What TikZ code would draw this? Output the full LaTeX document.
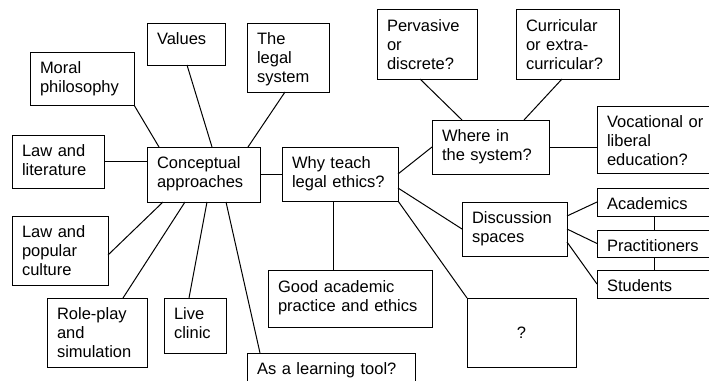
\documentclass[tikz,border=0pt]{standalone}
\usepackage{fontspec}
\setmainfont{Liberation Sans}

\begin{document}
\begin{tikzpicture}[x=1pt,y=-1pt]
  \useasboundingbox (0,0) rectangle (709,380);
  \clip (0,0) rectangle (709,380);
  \tikzset{Box/.style={draw,line width=1pt,anchor=north west,align=left,
                       inner xsep=10pt,inner ysep=0pt,outer sep=0pt,
                       text height=21pt,font=\fontsize{16.5}{19}\selectfont}}
  \tikzset{Link/.style={line width=1pt}}

  \node[Box,text width=58pt,text depth=21pt] (Values) at (147,23) {Values};
  \node[Box,text width=62pt,text depth=48pt] (Legal) at (247,23) {The\\legal\\system};
  \node[Box,text width=84pt,text depth=32pt] (Moral) at (30,52) {Moral\\philosophy};
  \node[Box,text width=72pt,text depth=32pt] (Lit) at (12,135) {Law and\\literature};
  \node[Box,text width=93pt,text depth=34pt] (Concept) at (147,147) {Conceptual\\approaches};
  \node[Box,text width=96pt,text depth=33pt] (Why) at (282,147) {Why teach\\legal ethics?};
  \node[Box,text width=80pt,text depth=48pt,text height=22pt] (Perv) at (377,9) {Pervasive\\or\\discrete?};
  \node[Box,text width=83pt,text depth=48pt,text height=22pt] (Curr) at (516,9) {Curricular\\or extra-\\curricular?};
  \node[Box,text width=97pt,text depth=33pt] (Where) at (432,120) {Where in\\the system?};
  \node[Box,text width=110pt,text depth=46pt] (Voc) at (597,106) {Vocational or\\liberal\\education?};
  \node[Box,text width=85pt,text depth=33pt] (Disc) at (462,202) {Discussion\\spaces};
  \node[Box,text width=110pt,text depth=7pt] (Acad) at (597,188) {Academics};
  \node[Box,text width=110pt,text depth=6pt] (Prac) at (597,230) {Practitioners};
  \node[Box,text width=110pt,text depth=7pt] (Stud) at (597,270) {Students};
  \node[Box,text width=144pt,text depth=35pt,text height=22pt] (Good) at (268,270) {Good academic\\practice and ethics};
  \node[Box,text width=76pt,text depth=48pt] (Pop) at (12,216) {Law and\\popular\\culture};
  \node[Box,text width=80pt,text depth=48pt] (Role) at (47,298) {Role-play\\and\\simulation};
  \node[Box,text width=42pt,text depth=34pt] (Live) at (164,298) {Live\\clinic};
  \node[Box,text width=148pt,text depth=30pt] (Tool) at (247,353) {As a learning tool?};
  \node[draw,line width=1pt,anchor=north west,outer sep=0pt,minimum width=109pt,
        minimum height=69pt,font=\fontsize{16.5}{19}\selectfont] (Quest) at (467,298) {?};

  % Conceptual approaches
  \draw[Link] (Moral.south east) -- ([xshift=12pt]Concept.north west);
  \draw[Link] ([xshift=40pt]Values.south west) -- ([xshift=65pt]Concept.north west);
  \draw[Link] ([xshift=38pt]Legal.south west) -- ([xshift=101pt]Concept.north west);
  \draw[Link] (Lit.east) -- (Lit.east -| Concept.west);
  \draw[Link] ([xshift=16pt]Concept.south west) -- ([yshift=-39pt]Pop.north east);
  \draw[Link] ([xshift=38pt]Concept.south west) -- ([xshift=76pt]Role.north west);
  \draw[Link] ([xshift=60pt]Concept.south west) -- ([xshift=25pt]Live.north west);
  \draw[Link] ([xshift=79pt]Concept.south west) -- ([xshift=13pt]Tool.north west);
  \draw[Link] (Concept.east) -- (Concept.east -| Why.west);

  % Why teach legal ethics?
  \draw[Link] ([xshift=51pt]Why.south west) -- ([xshift=51pt]Why.south west |- Good.north);
  \draw[Link] (Why.east) -- (Where.west);
  \draw[Link] ([yshift=13pt]Why.south east) -- (Disc.west);
  \draw[Link] (Why.south east) -- (Quest.north west);

  % Where in the system?
  \draw[Link] ([xshift=43pt]Perv.south west) -- ([xshift=30pt]Where.north west);
  \draw[Link] ([xshift=46pt]Curr.south west) -- ([xshift=92pt]Where.north west);
  \draw[Link] (Where.east) -- (Where.east -| Voc.west);

  % Discussion spaces
  \draw[Link] ([yshift=-14pt]Disc.north east) -- (Acad.west);
  \draw[Link] (Disc.east) -- (Prac.west);
  \draw[Link] ([yshift=14pt]Disc.south east) -- (Stud.west);
  \draw[Link] ([xshift=57pt]Acad.south west) -- ([xshift=57pt]Acad.south west |- Prac.north);
  \draw[Link] ([xshift=57pt]Prac.south west) -- ([xshift=57pt]Prac.south west |- Stud.north);
\end{tikzpicture}
\end{document}
